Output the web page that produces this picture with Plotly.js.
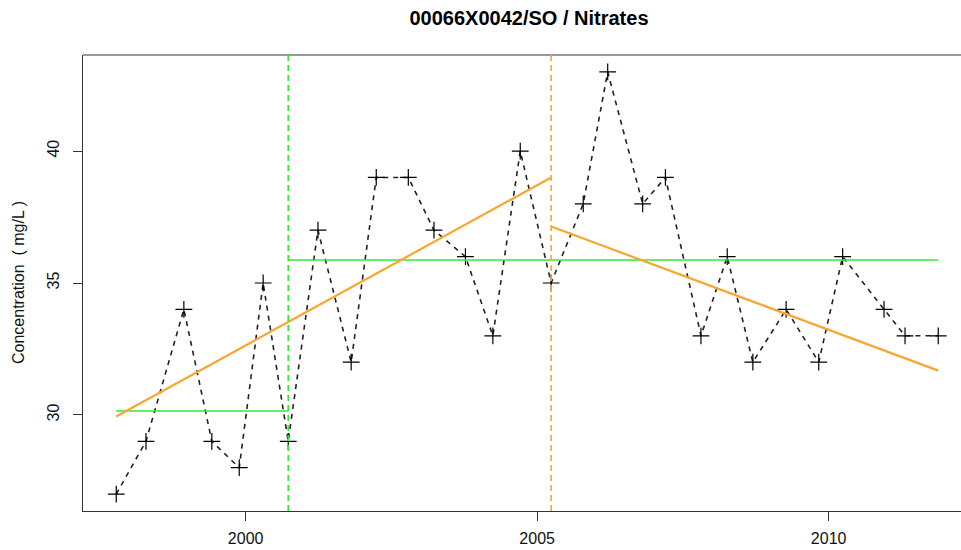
<!DOCTYPE html>
<html>
<head>
<meta charset="utf-8">
<script src="https://cdn.plot.ly/plotly-3.0.1.min.js"></script>
<style>
html,body{margin:0;padding:0;background:#fff;overflow:hidden;}
#chart{width:961px;height:550px;}
</style>
</head>
<body>
<div id="chart"></div>
<script>
// Sample dates (decimal years) and nitrate concentrations (mg/L)
const dates = [1997.78, 1998.29, 1998.94, 1999.42, 1999.89, 2000.30, 2000.73, 2001.24, 2001.81, 2002.24,
               2002.79, 2003.23, 2003.77, 2004.24, 2004.71, 2005.24, 2005.79, 2006.21, 2006.81, 2007.20,
               2007.81, 2008.26, 2008.70, 2009.27, 2009.83, 2010.24, 2010.95, 2011.31, 2011.88];
const values = [27, 29, 34, 29, 28, 35, 29, 37, 32, 39,
                39, 37, 36, 33, 40, 35, 38, 43, 38, 39,
                33, 36, 32, 34, 32, 36, 34, 33, 33];

// Break in mean (green) and its segment means
const meanBreak = 2000.73;
const meanSeg1X = [1997.78, 2000.73];
const meanSeg1Y = [30.15, 30.15];
const meanSeg2X = [2000.73, 2011.88];
const meanSeg2Y = [35.87, 35.87];

// Break in trend (orange) and its segment trends
const trendBreak = 2005.24;
const trendSeg1X = [1997.78, 2005.24];
const trendSeg1Y = [29.94, 39.0];
const trendSeg2X = [2005.24, 2011.88];
const trendSeg2Y = [37.14, 31.68];

const xTicks = [2000, 2005, 2010];
const yTicks = [30, 35, 40];

const FONT = '"Liberation Sans", Arial, sans-serif';
const GREEN = '#33e833';
const ORANGE = '#F9A62E';
const AXIS = '#333333';

const traces = [
  {x: dates, y: values, type: 'scatter', mode: 'lines+markers',
   line: {color: '#222', width: 1.6, dash: '5px,5px'},
   marker: {symbol: 'cross-thin-open', size: 12, color: '#000', line: {color: '#000', width: 1.2}},
   hoverinfo: 'x+y'},
  {x: meanSeg1X, y: meanSeg1Y, type: 'scatter', mode: 'lines', line: {color: GREEN, width: 1.6}},
  {x: meanSeg2X, y: meanSeg2Y, type: 'scatter', mode: 'lines', line: {color: GREEN, width: 1.6}},
  {x: trendSeg1X, y: trendSeg1Y, type: 'scatter', mode: 'lines', line: {color: ORANGE, width: 2.2}},
  {x: trendSeg2X, y: trendSeg2Y, type: 'scatter', mode: 'lines', line: {color: ORANGE, width: 2.2}}
];

const layout = {
  width: 961, height: 550,
  margin: {l: 83, r: 0, t: 55, b: 39},
  paper_bgcolor: '#fff', plot_bgcolor: '#fff',
  showlegend: false,
  font: {family: FONT, color: '#111'},
  title: {text: '00066X0042/SO / Nitrates', font: {family: FONT, size: 20, weight: 'bold', color: '#000'},
          xref: 'container', x: 529/961, xanchor: 'center', yref: 'container', y: 1 - 18/550, yanchor: 'middle'},
  xaxis: {range: [1997.21, 2012.27], tickvals: xTicks, ticktext: xTicks.map(String),
          ticks: 'outside', ticklen: 9, tickwidth: 1, tickcolor: AXIS,
          showline: true, linecolor: AXIS, linewidth: 1, showgrid: false, zeroline: false,
          tickfont: {size: 16, family: FONT, color: '#111'}, ticklabelstandoff: 4},
  yaxis: {range: [26.36, 43.64], tickvals: yTicks, ticktext: yTicks.map(String), tickangle: -90,
          ticks: 'outside', ticklen: 9, tickwidth: 1, tickcolor: AXIS,
          showline: true, linecolor: AXIS, linewidth: 1, showgrid: false, zeroline: false,
          tickfont: {size: 16, family: FONT, color: '#111'}, ticklabelstandoff: 8},
  shapes: [
    {type: 'line', xref: 'paper', yref: 'paper', x0: 0, x1: 1, y0: 1, y1: 1, line: {color: AXIS, width: 1}},
    {type: 'line', xref: 'x', yref: 'paper', x0: meanBreak, x1: meanBreak, y0: 0, y1: 1,
     line: {color: GREEN, width: 1.6, dash: '6px,4px'}},
    {type: 'line', xref: 'x', yref: 'paper', x0: trendBreak, x1: trendBreak, y0: 0, y1: 1,
     line: {color: ORANGE, width: 1.6, dash: '6px,4px'}}
  ],
  annotations: [
    {text: 'Concentration  ( mg/L )', xref: 'paper', yref: 'paper', x: (18 - 83) / 878, y: 0.5,
     xanchor: 'center', yanchor: 'middle', textangle: -90, showarrow: false,
     font: {family: FONT, size: 16, color: '#111'}}
  ]
};

Plotly.newPlot('chart', traces, layout, {displayModeBar: false, staticPlot: true});
</script>
</body>
</html>
